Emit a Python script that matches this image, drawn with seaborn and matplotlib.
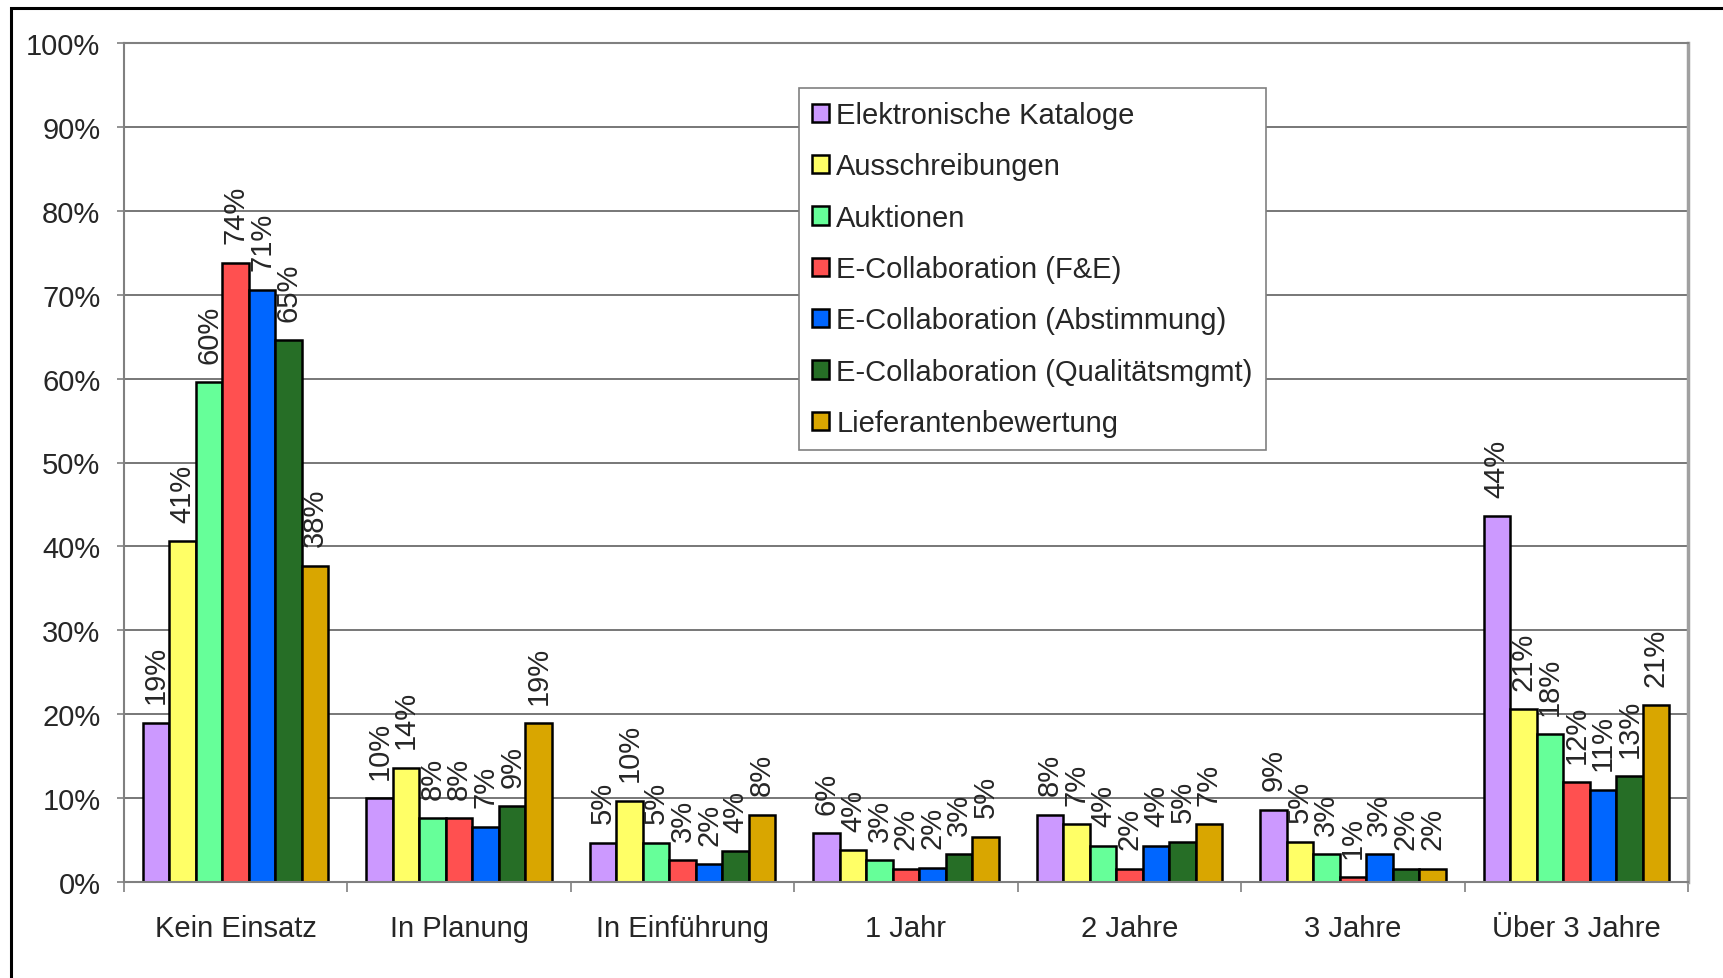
# importing libraries
import pandas as pd
import seaborn as sns
import matplotlib.pyplot as plt
from matplotlib.patches import Rectangle

# Data (percent)
categories = ['Kein Einsatz', 'In Planung', 'In Einführung', '1 Jahr', '2 Jahre', '3 Jahre', 'Über 3 Jahre']
series_names = ['Elektronische Kataloge', 'Ausschreibungen', 'Auktionen',
                'E-Collaboration (F&E)', 'E-Collaboration (Abstimmung)',
                'E-Collaboration (Qualitätsmgmt)', 'Lieferantenbewertung']

kataloge = [19.0, 10.0, 4.7, 5.8, 8.0, 8.6, 43.6]
ausschreibungen = [40.6, 13.6, 9.7, 3.8, 6.9, 4.8, 20.6]
auktionen = [59.6, 7.6, 4.7, 2.6, 4.3, 3.3, 17.6]
collab_fe = [73.8, 7.6, 2.6, 1.6, 1.6, 0.6, 11.9]
collab_abst = [70.6, 6.6, 2.1, 1.7, 4.3, 3.3, 11.0]
collab_qual = [64.6, 9.0, 3.7, 3.3, 4.8, 1.6, 12.6]
lieferanten = [37.7, 18.9, 8.0, 5.4, 6.9, 1.6, 21.1]

colors = ['#CC99FF', '#FFFF66', '#66FF99', '#FF5050', '#0066FF', '#266E26', '#D9A600']

# long format table for seaborn
all_series = [kataloge, ausschreibungen, auktionen, collab_fe, collab_abst, collab_qual, lieferanten]
rows = []
for name, vals in zip(series_names, all_series):
    for cat, v in zip(categories, vals):
        rows.append({'Kategorie': cat, 'Bereich': name, 'Anteil': v})
df = pd.DataFrame(rows)

sns.set_style('white')
plt.rcParams['font.family'] = ['Liberation Sans', 'DejaVu Sans']

fig = plt.figure(figsize=(17.24, 9.79), dpi=100)
ax = fig.add_axes([124 / 1724, 1 - 883 / 979, (1688 - 124) / 1724, (883 - 44) / 979])

sns.barplot(data=df, x='Kategorie', y='Anteil', hue='Bereich', order=categories,
            hue_order=series_names, palette=colors, saturation=1, width=0.83,
            edgecolor='black', linewidth=1.8, errorbar=None, ax=ax)

# value labels on top of the bars
for cont in ax.containers:
    ax.bar_label(cont, fmt=lambda v: f"{v:.0f}%", rotation=90, padding=14, fontsize=21)

# axes styling
ax.set_ylim(0, 100)
ax.set_xlim(-0.5, 6.5)
ax.set_yticks(range(0, 101, 10))
ax.set_yticklabels([f"{t}%" for t in range(0, 101, 10)], fontsize=21)
ax.tick_params(axis='y', length=5, width=1.2, color='#808080', pad=12, left=True)
ax.set_xticks(range(len(categories)))
ax.set_xticklabels(categories, fontsize=21)
ax.set_xticks([i - 0.5 for i in range(len(categories) + 1)], minor=True)
ax.tick_params(axis='x', which='major', length=0, pad=23)
ax.tick_params(axis='x', which='minor', length=7, width=1.2, color='#808080', bottom=True)
ax.yaxis.grid(True, color='#606060', linewidth=1.2)
ax.set_axisbelow(True)
ax.set_xlabel('')
ax.set_ylabel('')
for side in ['left', 'top', 'bottom']:
    ax.spines[side].set_color('#808080')
    ax.spines[side].set_linewidth(1.5)
ax.spines['right'].set_color('#A0A0A0')
ax.spines['right'].set_linewidth(2.5)

# legend
handles, labels = ax.get_legend_handles_labels()
ax.get_legend().remove()
leg = fig.legend(handles, labels, loc='upper left', bbox_to_anchor=(799 / 1724, 1 - 89 / 979),
                 fontsize=21, frameon=True, fancybox=False, framealpha=1,
                 handlelength=0.58, handleheight=0.58, handletextpad=0.25,
                 borderpad=0.45, labelspacing=0.8, borderaxespad=0)
leg.get_frame().set_edgecolor('#808080')
leg.get_frame().set_linewidth(1.2)

# outer frame of the chart
fig.patches.append(Rectangle((11 / 1724, -0.1), 2, 1.1 - 9 / 979, transform=fig.transFigure,
                             fill=False, edgecolor='black', linewidth=2.2))

fig.savefig('out.png', dpi=100)
